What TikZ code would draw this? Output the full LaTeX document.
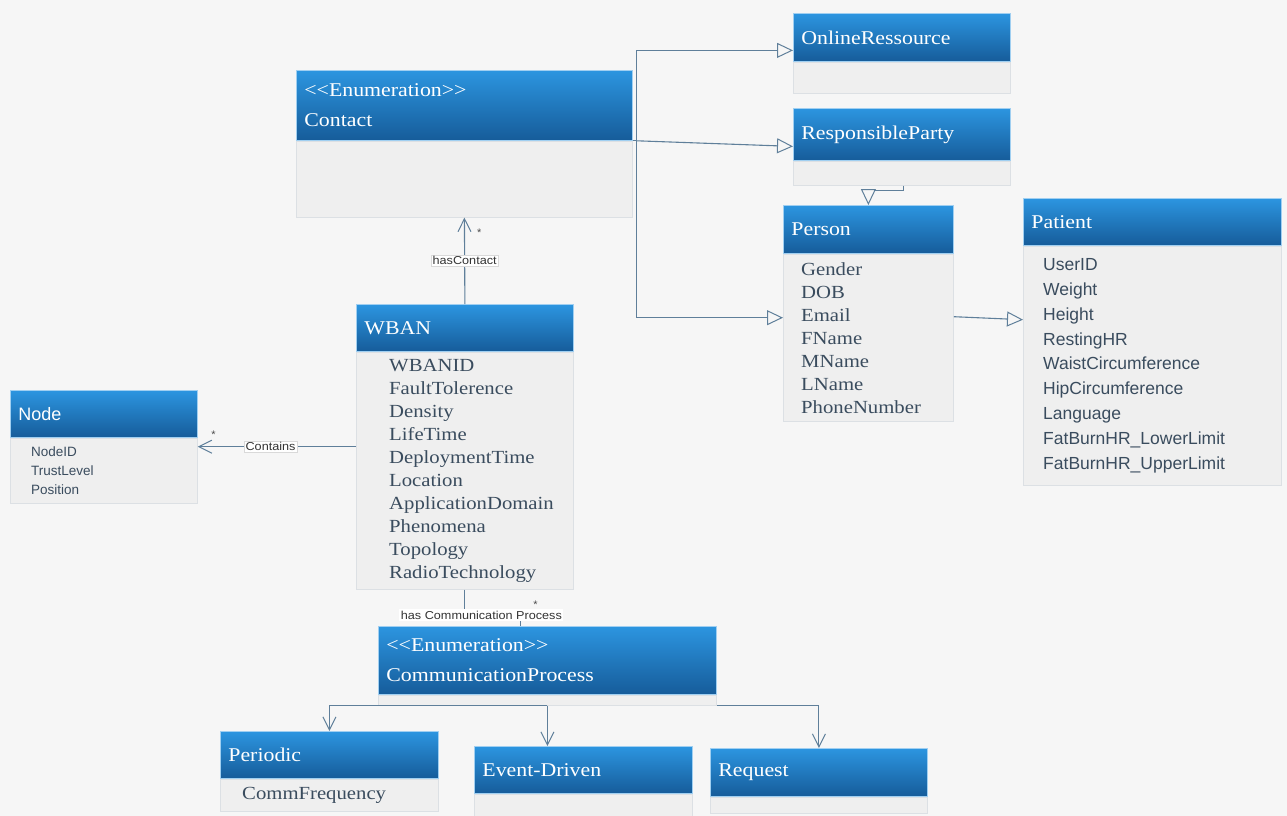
\documentclass[tikz,border=0pt]{standalone}
\usepackage{fontspec}
\setmainfont{Liberation Serif}
\newfontfamily\hdrfont[FakeStretch=1.12]{Liberation Serif}
\newfontfamily\attrfont[FakeStretch=1.12]{Liberation Serif}
\newfontfamily\sansfont{Liberation Sans}
\newfontfamily\labfont[FakeStretch=1.1]{Liberation Sans}
\usetikzlibrary{arrows.meta}
\definecolor{bg}{HTML}{F6F6F6}
\definecolor{hdtop}{HTML}{2C95E0}
\definecolor{hdbot}{HTML}{165C9A}
\definecolor{bodyfill}{HTML}{EFEFEF}
\definecolor{bodyline}{HTML}{DCE0E4}
\definecolor{attrcol}{HTML}{3A4C5E}
\definecolor{conn}{HTML}{5F7F9A}
\tikzset{
  hdr/.style={draw=hdtop!45, line width=0.8pt, top color=hdtop, bottom color=hdbot,
    anchor=north west, inner sep=0pt, text=white, align=left,
    font=\hdrfont\fontsize{19.5}{30}\selectfont},
  bodyst/.style={fill=bodyfill, draw=bodyline, line width=0.8pt, inner sep=0pt},
  attrst/.style={inner sep=0pt, align=left, text=attrcol,
    font=\attrfont\fontsize{18.5}{23}\selectfont},
  patfont/.style={font=\sansfont\fontsize{17.5}{24.9}\selectfont},
  nodefont/.style={font=\sansfont\fontsize{13.5}{19}\selectfont},
  link/.style={draw=conn, line width=1.1pt},
  assoc/.style={link, -{Straight Barb[length=13pt,width=13pt,line width=1pt]}},
  gen/.style={link, -{Triangle[open,length=16pt,width=15pt,fill=bg,line width=1pt]}},
  lab/.style={font=\labfont\fontsize{11.5}{13}\selectfont, fill=white, draw=black!15,
    line width=0.4pt, inner sep=1.5pt, text=black!80},
  mult/.style={font=\sansfont\fontsize{11}{12}\selectfont, text=black!70, inner sep=1pt}
}
\newcommand\umlclass[9]{%
  \pgfmathsetmacro\umltw{#4-16}%
  \node[hdr, minimum width=#4, minimum height=#5, text width=\umltw pt] (#1H) at (#2,#3) {#7};
  \node[bodyst, minimum width=#4, minimum height=#6, anchor=north west] (#1B) at (#1H.south west) {};
  \node[attrst, anchor=west, #8] (#1T) at (#1B.west) {#9};
}
\begin{document}
\begin{tikzpicture}[x=1pt,y=-1pt]
\fill[bg] (0,0) rectangle (1287,816);
\useasboundingbox (0,0) rectangle (1287,816);

\umlclass{contact}{296}{70}{336}{70}{76}{<<Enumeration>>\\Contact}{xshift=20}{}
\umlclass{or}{793}{13}{217}{48}{31}{OnlineRessource}{xshift=20}{}
\umlclass{rp}{793}{108}{217}{52}{24}{ResponsibleParty}{xshift=20}{}
\umlclass{person}{783}{205}{170}{48}{167}{Person}{xshift=18}{Gender\\DOB\\Email\\FName\\MName\\LName\\PhoneNumber}
\umlclass{patient}{1023}{198}{258}{47}{239}{Patient}{xshift=20,patfont}{UserID\\Weight\\Height\\RestingHR\\WaistCircumference\\HipCircumference\\Language\\FatBurnHR\_LowerLimit\\FatBurnHR\_UpperLimit}
\umlclass{wban}{356}{304}{217}{47}{237}{WBAN}{xshift=33}{WBANID\\FaultTolerence\\Density\\LifeTime\\DeploymentTime\\Location\\ApplicationDomain\\Phenomena\\Topology\\RadioTechnology}
\umlclass{node}{10}{390}{187}{47}{65}{\sansfont\fontsize{18}{22}\selectfont Node}{xshift=21,nodefont}{NodeID\\TrustLevel\\Position}
\umlclass{comm}{378}{626}{338}{68}{10}{<<Enumeration>>\\CommunicationProcess}{xshift=20}{}
\umlclass{periodic}{220}{731}{218}{47}{32}{Periodic}{xshift=22}{CommFrequency}
\umlclass{ed}{474}{746}{218}{47}{23}{Event-Driven}{xshift=20}{}
\umlclass{req}{710}{748}{217}{48}{16}{Request}{xshift=20}{}

% WBAN -> Contact
\draw[assoc] (wbanH.north) -- node[lab, pos=0.5] (lhc) {hasContact}
  node[mult, pos=0.82, right=11pt] (mhc) {*} (contactB.south);

% WBAN -> Node
\coordinate (cw) at ([yshift=24]wbanB.west);
\draw[assoc] (cw) -- node[lab, pos=0.54] (lct) {Contains}
  node[mult, pos=0.9, above=7pt] (mct) {*} (cw -| nodeB.east);

% Contact -> OnlineRessource / ResponsibleParty / Person
\coordinate (tr) at ([xshift=4]contactH.south east);
\draw[link] (contactH.south east) -- (tr);
\draw[gen] (tr) |- ([yshift=-13]orH.west);
\draw[gen] (tr) -- ([yshift=-12]rpH.west);
\draw[gen] (tr) |- ([yshift=20]personB.west);

% ResponsibleParty -> Person
\draw[gen] ([xshift=2]rpB.south) -- ++(0,5) -| (personH.north);

% Person -> Patient
\draw[gen] ([yshift=21]personB.east) -- ([yshift=46]patientB.west);

% WBAN -> CommunicationProcess
\draw[link] (wbanB.south) |- ([xshift=-27,yshift=11]commH.north) -- ([xshift=-27]commH.north);
\node[lab, draw=none] (lcp) at ([xshift=-66,yshift=11]commH.north) {has Communication Process};
\node[mult] (mcp) at ([xshift=-12,yshift=21]commH.north) {*};

% CommunicationProcess -> kinds
\draw[assoc] (commB.south) -| (periodicH.north);
\draw[assoc] (commB.south) -- (commB.south |- edH.north);
\draw[assoc] (commB.south east) -| (reqH.north);
\end{tikzpicture}
\end{document}
